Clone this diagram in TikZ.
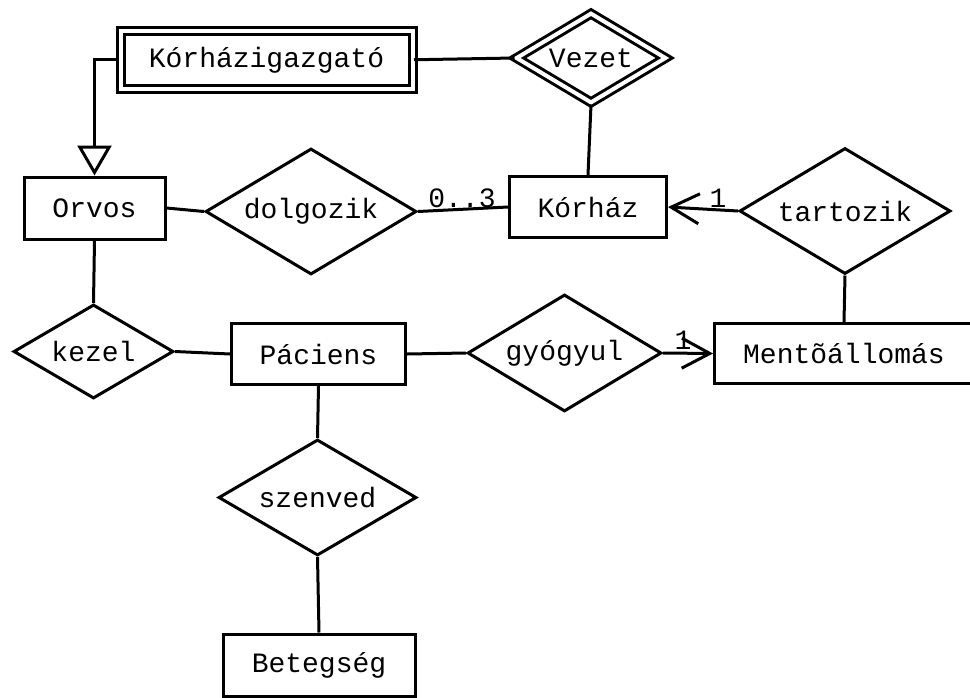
\documentclass[tikz,border=0pt]{standalone}
\usepackage{fontspec}
\setmainfont{Liberation Mono}
\usetikzlibrary{shapes.geometric,arrows.meta}
\tikzset{
  every node/.style={font=\fontsize{28}{30}\selectfont, inner sep=0pt},
  ent/.style={draw, rectangle, line width=3pt},
  rel/.style={draw, diamond, line width=3pt},
  conn/.style={line width=3pt},
  dbl/.style={double, double distance=4pt, line width=3pt},
  card/.style={anchor=south, font=\fontsize{28}{30}\selectfont},
  barb/.style={-{Straight Barb[length=28pt,width=30pt,line width=3pt]}},
  isa/.style={-{Triangle[open,length=30pt,width=34pt,line width=3pt]}}
}
\begin{document}
\begin{tikzpicture}[x=1pt,y=-1pt]
\useasboundingbox (0,0) rectangle (970,697);
% entities
\node[ent, dbl, minimum width=292pt, minimum height=57.5pt] (kig) at (266.5,59.75) {Kórházigazgató};
\node[ent, minimum width=141pt, minimum height=62pt] (orvos) at (94.5,208) {Orvos};
\node[ent, minimum width=157pt, minimum height=61pt] (korhaz) at (588,207) {Kórház};
\node[ent, minimum width=259pt, minimum height=60pt] (mento) at (844,353.5) {Mentõállomás};
\node[ent, minimum width=174pt, minimum height=61pt] (paciens) at (318.5,354) {Páciens};
\node[ent, minimum width=192pt, minimum height=62pt] (beteg) at (319,665) {Betegség};
% relationships
\node[rel, dbl, aspect=1.667, minimum width=150pt, minimum height=90pt] (vezet) at (591,58) {Vezet};
\node[rel, aspect=1.675, minimum width=211pt, minimum height=126pt] (dolgozik) at (311,211.5) {dolgozik};
\node[rel, aspect=1.675, minimum width=211pt, minimum height=126pt] (tartozik) at (845,211) {tartozik};
\node[rel, aspect=1.66, minimum width=194pt, minimum height=117pt] (gyogyul) at (564.5,353) {gyógyul};
\node[rel, aspect=1.70, minimum width=160pt, minimum height=94pt] (kezel) at (93.5,351.5) {kezel};
\node[rel, aspect=1.707, minimum width=198pt, minimum height=116pt] (szenved) at (317.5,497.5) {szenved};
% connectors
\draw[conn, isa] (kig.west) -| (orvos.north);
\draw[conn] (kig.east) -- (vezet.west);
\draw[conn] (vezet.south) -- (korhaz.north);
\draw[conn] (orvos.east) -- (dolgozik.west);
\draw[conn] (dolgozik.east) -- (korhaz.west);
\draw[conn, barb] (tartozik.west) -- (korhaz.east);
\draw[conn] (tartozik.south) -- (mento.north);
\draw[conn] (orvos.south) -- (kezel.north);
\draw[conn] (kezel.east) -- (paciens.west);
\draw[conn] (paciens.east) -- (gyogyul.west);
\draw[conn, barb] (gyogyul.east) -- (mento.west);
\draw[conn] (paciens.south) -- (szenved.north);
\draw[conn] (szenved.south) -- (beteg.north);
% cardinalities
\node[card] (c1) at (462,208) {0..3};
\node[card] (c2) at (718,208) {1};
\node[card] (c3) at (683,350) {1};
\end{tikzpicture}
\end{document}
